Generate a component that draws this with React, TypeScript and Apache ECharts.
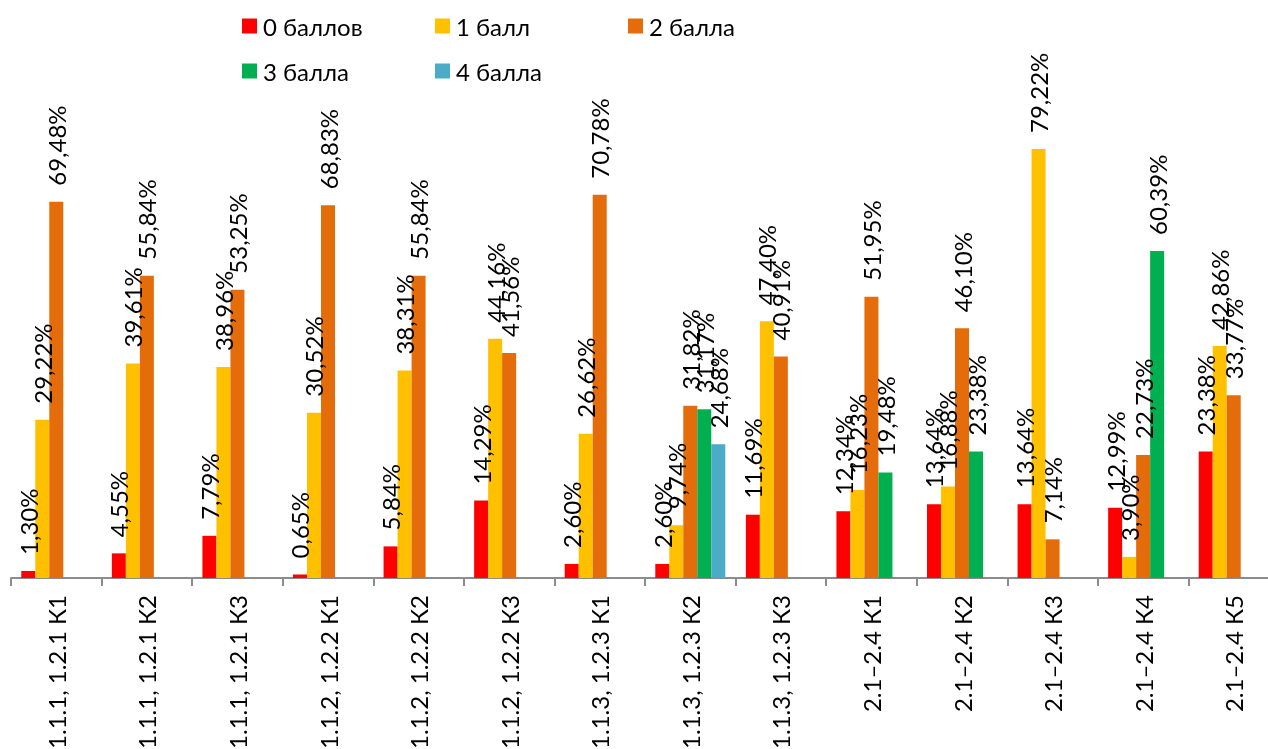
import React, { useEffect, useRef } from "react";
import * as echarts from "echarts";

const categories = [
  "1.1.1, 1.2.1 К1",
  "1.1.1, 1.2.1 К2",
  "1.1.1, 1.2.1 К3",
  "1.1.2, 1.2.2 К1",
  "1.1.2, 1.2.2 К2",
  "1.1.2, 1.2.2 К3",
  "1.1.3, 1.2.3 К1",
  "1.1.3, 1.2.3 К2",
  "1.1.3, 1.2.3 К3",
  "2.1–2.4 К1",
  "2.1–2.4 К2",
  "2.1–2.4 К3",
  "2.1–2.4 К4",
  "2.1–2.4 К5",
];

const seriesNames = ["0 баллов", "1 балл", "2 балла", "3 балла", "4 балла"];

const score0 = [1.3, 4.55, 7.79, 0.65, 5.84, 14.29, 2.6, 2.6, 11.69, 12.34, 13.64, 13.64, 12.99, 23.38];
const score1 = [29.22, 39.61, 38.96, 30.52, 38.31, 44.16, 26.62, 9.74, 47.4, 16.23, 16.88, 79.22, 3.9, 42.86];
const score2 = [69.48, 55.84, 53.25, 68.83, 55.84, 41.56, 70.78, 31.82, 40.91, 51.95, 46.1, 7.14, 22.73, 33.77];
const score3 = [null, null, null, null, null, null, null, 31.17, null, 19.48, 23.38, null, 60.39, null];
const score4 = [null, null, null, null, null, null, null, 24.68, null, null, null, null, null, null];

const seriesData = [score0, score1, score2, score3, score4];
const colors = ["#FF0000", "#FFC000", "#E46C0A", "#00B050", "#4BACC6"];

const FONT = "Lato";

// legend layout: column x and row y for each series entry
const legendLeft = [237, 430, 623, 237, 430];
const legendTop = [9, 9, 9, 54, 54];

export default function App() {
  const ref = useRef<HTMLDivElement>(null);

  useEffect(() => {
    if (!ref.current) return;
    const chart = echarts.init(ref.current, null, { renderer: "svg" });
    chart.setOption({
      animation: false,
      legend: seriesNames.map((name, i) => ({
        data: [name],
        left: legendLeft[i],
        top: legendTop[i],
        icon: "rect",
        itemWidth: 15,
        itemHeight: 15,
        itemGap: 0,
        selectedMode: false,
        textStyle: { fontFamily: FONT, fontSize: 24, color: "#000", padding: [0, 0, 0, 1] },
      })),
      grid: {
        left: 11,
        right: -11,
        top: 36.5,
        bottom: 171,
        containLabel: false,
        outerBoundsMode: "none",
      },
      xAxis: {
        type: "category",
        data: categories,
        axisLine: { show: true, lineStyle: { color: "#8C8C8C", width: 2 } },
        axisTick: { show: true, length: 8, lineStyle: { color: "#8C8C8C", width: 2 } },
        axisLabel: {
          interval: 0,
          rotate: 90,
          margin: 17,
          fontFamily: FONT,
          fontSize: 24,
          color: "#000",
        },
      },
      yAxis: {
        type: "value",
        min: 0,
        max: 100,
        show: false,
        splitLine: { show: false },
      },
      series: seriesData.map((d, i) => ({
        name: seriesNames[i],
        type: "bar",
        data: d,
        barGap: "0%",
        barCategoryGap: "22.7%",
        itemStyle: { color: colors[i] },
        label: {
          show: true,
          position: "top",
          rotate: 90,
          align: "left",
          verticalAlign: "middle",
          distance: 16,
          fontFamily: FONT,
          fontSize: 24,
          color: "#000",
          formatter: (p: any) =>
            p.value == null ? "" : Number(p.value).toFixed(2).replace(".", ",") + "%",
        },
      })),
    });
    return () => chart.dispose();
  }, []);

  return (
    <div
      ref={ref}
      style={{ position: "fixed", left: 0, top: 0, width: 1268, height: 749 }}
    />
  );
}
